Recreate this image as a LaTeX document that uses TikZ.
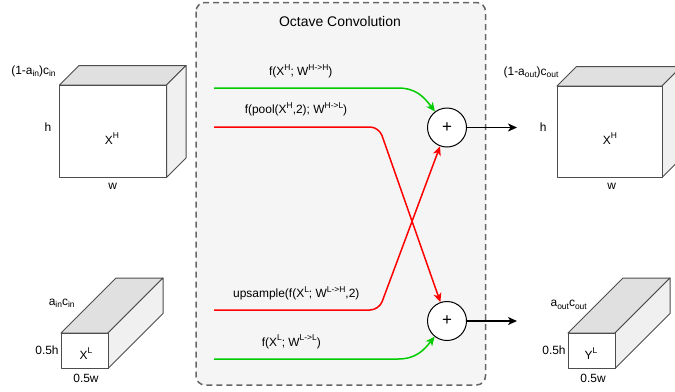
\documentclass[tikz,border=0pt]{standalone}
\usepackage{fontspec}
\setmainfont{Liberation Sans}
\usetikzlibrary{arrows.meta}
\definecolor{boxfill}{HTML}{F5F5F5}
\definecolor{boxline}{HTML}{666666}
\definecolor{topf}{HTML}{E0E0E0}
\definecolor{sidef}{HTML}{F0F0F0}
\definecolor{cubeline}{HTML}{4D4D4D}
\definecolor{lgreen}{HTML}{00CC00}
\definecolor{lred}{HTML}{FF0000}
\newcommand\sps[1]{\raisebox{0.45em}{\fontsize{8.5}{9}\selectfont #1}}
\newcommand\sbs[1]{\raisebox{-0.25em}{\fontsize{8.5}{9}\selectfont #1}}
\newcommand\drawcube[5]{%
  \filldraw[cubeedge, fill=topf] (#1,#2) -- ++(#5,-#5) -- ++(#3,0) -- ++(-#5,#5) -- cycle;
  \filldraw[cubeedge, fill=sidef] (#1+#3,#2) -- ++(#5,-#5) -- ++(0,#4) -- ++(-#5,#5) -- cycle;
  \filldraw[cubeedge, fill=white] (#1,#2) rectangle ++(#3,#4);
}
\begin{document}
\begin{tikzpicture}[x=1bp,y=-1bp,
  cubeedge/.style={draw=cubeline, line width=1bp, line join=round},
  lbl/.style={font=\fontsize{12}{14}\selectfont, inner sep=0pt, anchor=base},
  plus/.style={circle, draw=black, line width=1bp, fill=white, minimum size=39bp, inner sep=0pt, font=\fontsize{17}{17}\selectfont},
  flow/.style={line width=1.5bp, -{Stealth[length=9bp,width=8bp,inset=2.5bp]}},
  outarrow/.style={line width=1.5bp, draw=black, -{Stealth[length=9bp,width=8bp,inset=2.5bp]}}
]
\useasboundingbox (0,0) rectangle (675,391);
% dashed container
\draw[boxline, fill=boxfill, line width=1.5bp, dash pattern=on 6bp off 4bp, rounded corners=9bp]
  (196,2.5) rectangle (485.5,385);
\node[lbl, font=\fontsize{14}{16}\selectfont] (title) at (340,26.5) {Octave Convolution};

% cubes
\drawcube{59.5}{85}{107}{92.5}{19.5}
\drawcube{61}{333}{47}{35.5}{55}
\drawcube{557}{86}{105}{91.5}{19.5}
\drawcube{568}{333}{47}{35.5}{55}

% cube labels left
\node[lbl] (cinH) at (33.5,74) {(1-a\sbs{in})c\sbs{in}};
\node[lbl] (hL) at (48,131.7) {h};
\node[lbl] (wL) at (112.7,189) {w};
\node[lbl] (XH) at (112,144) {X\sps{H}};
\node[lbl] (cinL) at (61.7,305) {a\sbs{in}c\sbs{in}};
\node[lbl] (hhL) at (47,354) {0.5h};
\node[lbl] (XL) at (86,359.3) {X\sps{L}};
\node[lbl] (wwL) at (86,382.7) {0.5w};
% cube labels right
\node[lbl] (coutH) at (531,75) {(1-a\sbs{out})c\sbs{out}};
\node[lbl] (hR) at (543.3,131.7) {h};
\node[lbl] (YH) at (610,144) {X\sps{H}};
\node[lbl] (wR) at (611.7,189) {w};
\node[lbl] (coutL) at (568.7,306.7) {a\sbs{out}c\sbs{out}};
\node[lbl] (hhR) at (554,354) {0.5h};
\node[lbl] (YL) at (591,359.3) {Y\sps{L}};
\node[lbl] (wwR) at (593,382.7) {0.5w};

% adders
\node[plus] (addH) at (447,127.5) {+};
\node[plus] (addL) at (447,321) {+};

% start / end points
\coordinate (s1) at (214,88);
\coordinate (s2) at (214,127);
\coordinate (s3) at (214,310);
\coordinate (s4) at (214,359);
\coordinate (oH) at (517,127.5);
\coordinate (oL) at (517,321);

% flows
\draw[flow, lgreen] (s1) -- (398,88) .. controls (416,88) and (424,97) .. (addH);
\draw[flow, lred, rounded corners=9bp] (s2) -- (379,127) -- (addL);
\draw[flow, lred, rounded corners=9bp] (s3) -- (379,310) -- (addH);
\draw[flow, lgreen] (s4) -- (398,359) .. controls (416,359) and (424,350) .. (addL);

% outputs
\draw[outarrow] (addH) -- (oH);
\draw[outarrow] (addL) -- (oL);

% flow labels
\node[lbl] (lHH) at (300.8,75.7) {f(X\sps{H}; W\sps{H->H})};
\node[lbl] (lHL) at (296,113.5) {f(pool(X\sps{H},2); W\sps{H->L})};
\node[lbl] (lLH) at (296.3,297.7) {upsample(f(X\sps{L}; W\sps{L->H},2)};
\node[lbl] (lLL) at (291.3,346) {f(X\sps{L}; W\sps{L->L})};
\end{tikzpicture}
\end{document}
